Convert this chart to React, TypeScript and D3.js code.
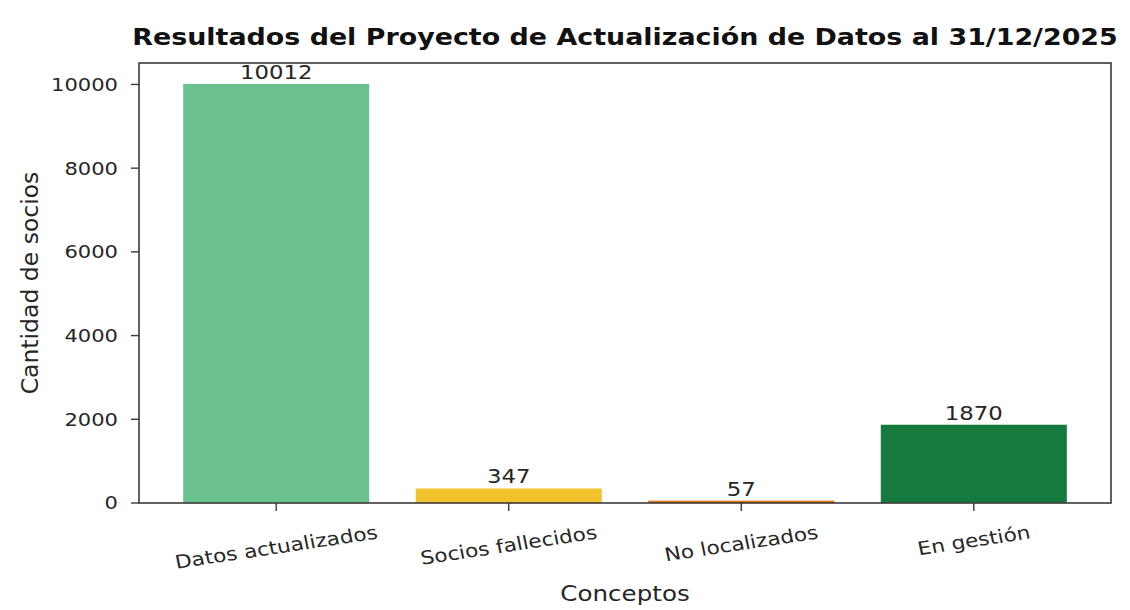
import React, { useEffect, useRef } from "react";
import * as d3 from "d3";

const categories = ["Datos actualizados", "Socios fallecidos", "No localizados", "En gestión"];
const values = [10012, 347, 57, 1870];
const barColors = ["#6cc28e", "#f2c12e", "#e2761f", "#167a3e"];
const yTicks = [0, 2000, 4000, 6000, 8000, 10000];
const title = "Resultados del Proyecto de Actualización de Datos al 31/12/2025";
const xLabel = "Conceptos";
const yLabel = "Cantidad de socios";

const W = 1130;
const H = 610;
const M = { left: 139, right: 1111, top: 63, bottom: 503 };
const SX = 1.17; // horizontal stretch of the reference's text

export default function App() {
  const ref = useRef<SVGSVGElement>(null);

  useEffect(() => {
    const svg = d3.select(ref.current);
    svg.selectAll("*").remove();

    const n = categories.length;
    const x = d3
      .scaleLinear()
      .domain([-0.4 - 0.05 * (n - 1 + 0.8), n - 1 + 0.4 + 0.05 * (n - 1 + 0.8)])
      .range([M.left, M.right]);
    const ymax = d3.max(values)! * 1.05;
    const y = d3.scaleLinear().domain([0, ymax]).range([M.bottom, M.top]);

    const txt = "#262626";
    const font = "'DejaVu Sans', sans-serif";

    // bars
    svg
      .append("g")
      .selectAll("rect")
      .data(values)
      .join("rect")
      .attr("x", (_d, i) => x(i - 0.4))
      .attr("width", (_d, i) => x(i + 0.4) - x(i - 0.4))
      .attr("y", (d) => y(d))
      .attr("height", (d) => y(0) - y(d))
      .attr("fill", (_d, i) => barColors[i]);

    // frame
    svg
      .append("rect")
      .attr("x", M.left)
      .attr("y", M.top)
      .attr("width", M.right - M.left)
      .attr("height", M.bottom - M.top)
      .attr("fill", "none")
      .attr("stroke", "#3a3a3a")
      .attr("stroke-width", 1.6);

    // y ticks
    const yg = svg.append("g");
    yTicks.forEach((t) => {
      yg.append("line")
        .attr("x1", M.left - 8)
        .attr("x2", M.left)
        .attr("y1", y(t))
        .attr("y2", y(t))
        .attr("stroke", "#3a3a3a")
        .attr("stroke-width", 1.4);
      yg.append("text")
        .attr("transform", `translate(${M.left - 21},${y(t)}) scale(${SX},1)`)
        .attr("dy", "0.36em")
        .attr("text-anchor", "end")
        .attr("font-family", font)
        .attr("font-size", 18)
        .attr("fill", txt)
        .text(String(t));
    });

    // x ticks and rotated labels
    const xg = svg.append("g");
    const rot = 10;
    const rad = (rot * Math.PI) / 180;
    const fs = 18.5;
    categories.forEach((c, i) => {
      xg.append("line")
        .attr("x1", x(i))
        .attr("x2", x(i))
        .attr("y1", M.bottom)
        .attr("y2", M.bottom + 8)
        .attr("stroke", "#3a3a3a")
        .attr("stroke-width", 1.4);
      const t = xg
        .append("text")
        .attr("font-family", font)
        .attr("font-size", fs)
        .attr("fill", txt)
        .attr("text-anchor", "middle")
        .attr("dominant-baseline", "central")
        .text(c);
      const L = (t.node() as SVGTextElement).getComputedTextLength();
      const fh = fs * 1.2;
      const bh = L * Math.sin(rad) + fh * Math.cos(rad);
      const cy = M.bottom + 18 + bh / 2;
      t.attr("transform", `translate(${x(i)},${cy}) scale(${SX},1) rotate(${-rot})`);
    });

    // value labels
    svg
      .append("g")
      .selectAll("text")
      .data(values)
      .join("text")
      .attr("transform", (d, i) => `translate(${x(i)},${y(d) - 5}) scale(${SX},1)`)
      .attr("text-anchor", "middle")
      .attr("font-family", font)
      .attr("font-size", 19.5)
      .attr("fill", txt)
      .text((d) => String(d));

    // title
    svg
      .append("text")
      .attr("transform", `translate(${(M.left + M.right) / 2},45) scale(${SX},1)`)
      .attr("text-anchor", "middle")
      .attr("font-family", font)
      .attr("font-weight", "bold")
      .attr("font-size", 23)
      .attr("fill", "#111")
      .text(title);

    // axis labels
    svg
      .append("text")
      .attr("transform", `translate(${(M.left + M.right) / 2},601) scale(${SX},1)`)
      .attr("text-anchor", "middle")
      .attr("font-family", font)
      .attr("font-size", 21)
      .attr("fill", txt)
      .text(xLabel);

    svg
      .append("text")
      .attr("transform", `translate(38,${(M.top + M.bottom) / 2}) rotate(-90)`)
      .attr("text-anchor", "middle")
      .attr("font-family", font)
      .attr("font-size", 23.5)
      .attr("fill", txt)
      .text(yLabel);
  }, []);

  return (
    <svg
      ref={ref}
      width={W}
      height={H}
      style={{ position: "absolute", left: 0, top: 0, background: "#fff" }}
    />
  );
}
